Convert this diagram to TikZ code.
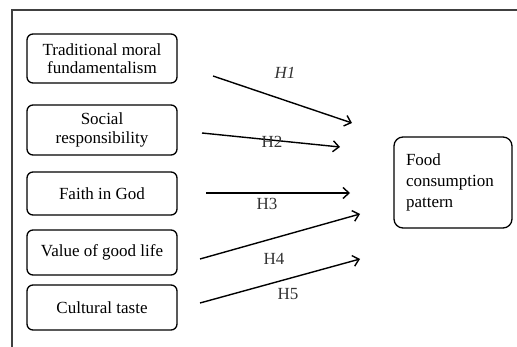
\documentclass[tikz,border=0pt]{standalone}
\usepackage{fontspec}
\setmainfont{Liberation Serif}
\usetikzlibrary{arrows.meta}
\tikzset{
  factor/.style={draw, line width=1.3pt, rounded corners=6pt, minimum width=150pt, align=center,
    font=\fontsize{17}{18.5}\selectfont, inner sep=2pt},
  hyp/.style={line width=1.4pt, -{Straight Barb[length=6pt,width=11pt,line width=1.4pt]}},
  hlabel/.style={font=\fontsize{17}{18}\selectfont, inner sep=0pt, text=black!80}
}
\begin{document}
\begin{tikzpicture}[x=1pt,y=-1pt]
\useasboundingbox (0,0) rectangle (517,347);
\draw[line width=1.3pt, black!75] (12,347) -- (12,10) -- (517,10);
\node[factor, minimum height=49pt] (tmf) at (102,58.5) {Traditional moral\\fundamentalism};
\node[factor, minimum height=50pt] (sr) at (102,130) {Social\\responsibility};
\node[factor, minimum height=43pt] (fg) at (102,193.5) {Faith in God};
\node[factor, minimum height=45pt] (vgl) at (102,252.5) {Value of good life};
\node[factor, minimum height=45pt] (ct) at (102,307.5) {Cultural taste};
\node[draw, line width=1.3pt, rounded corners=9pt, minimum height=91pt, text width=94pt,
  inner xsep=12pt, align=left, font=\fontsize{17}{21}\selectfont] (fcp) at (453,182.5)
  {Food\\consumption\\pattern};
\coordinate (s1) at (213,76); \coordinate (e1) at (352,123);
\coordinate (s2) at (202,133); \coordinate (e2) at (340,147);
\coordinate (s3) at (206,193); \coordinate (e3) at (350,193);
\coordinate (s4) at (200,259); \coordinate (e4) at (360,214);
\coordinate (s5) at (200,303); \coordinate (e5) at (360,259);
\draw[hyp] (s1) -- (e1);
\draw[hyp] (s2) -- (e2);
\draw[hyp] (s3) -- (e3);
\draw[hyp] (s4) -- (e4);
\draw[hyp] (s5) -- (e5);
\node[hlabel] (h1) at (285,73) {\itshape H1};
\node[hlabel] (h2) at (272,142) {H2};
\node[hlabel] (h3) at (267,204) {H3};
\node[hlabel] (h4) at (274,259) {H4};
\node[hlabel] (h5) at (288,294) {H5};
\end{tikzpicture}
\end{document}
